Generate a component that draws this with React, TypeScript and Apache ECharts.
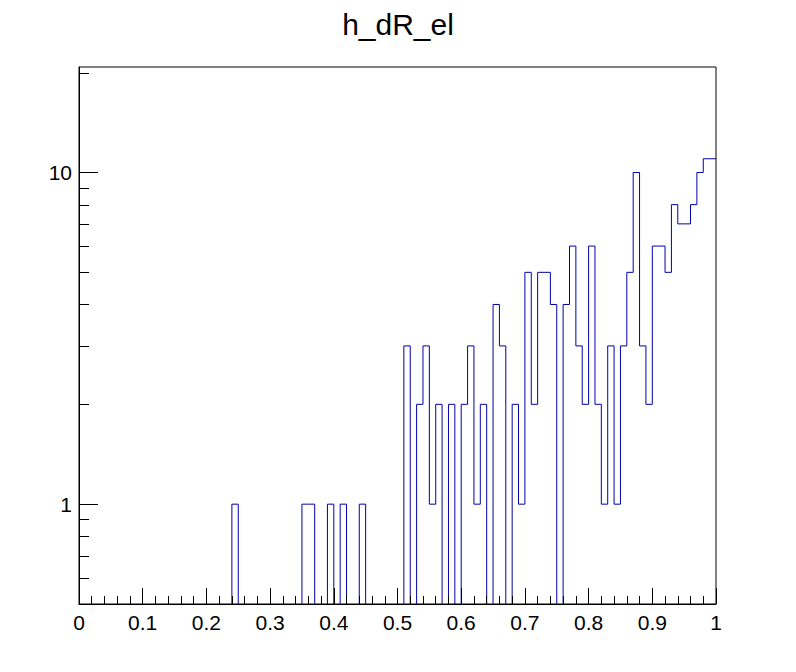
import React, { useEffect, useRef } from 'react';
import * as echarts from 'echarts';

const chartTitle = 'h_dR_el';
const xRange = [0, 1];
const binCount = 100;
// entries per bin, bins of width 0.01 from 0 to 1
const counts = [
  0, 0, 0, 0, 0, 0, 0, 0, 0, 0,
  0, 0, 0, 0, 0, 0, 0, 0, 0, 0,
  0, 0, 0, 0, 1, 0, 0, 0, 0, 0,
  0, 0, 0, 0, 0, 1, 1, 0, 0, 1,
  0, 1, 0, 0, 1, 0, 0, 0, 0, 0,
  0, 3, 0, 2, 3, 1, 2, 0, 2, 0,
  2, 3, 1, 2, 0, 4, 3, 0, 2, 1,
  5, 2, 5, 5, 4, 0, 4, 6, 3, 2,
  6, 2, 1, 3, 1, 3, 5, 10, 3, 2,
  6, 6, 5, 8, 7, 7, 8, 10, 11, 11,
];
const yRange = [0.5, 20.8];
const yMajorTicks = [1, 10];
const yMinorTicks = [0.6, 0.7, 0.8, 0.9, 2, 3, 4, 5, 6, 7, 8, 9, 20];

const FONT = '"Liberation Sans", Arial, Helvetica, sans-serif';
const LINE_COLOR = '#0000aa';

export default function App() {
  const ref = useRef<HTMLDivElement>(null);

  useEffect(() => {
    if (!ref.current) return;
    const chart = echarts.init(ref.current, undefined, { renderer: 'svg' });

    const binWidth = (xRange[1] - xRange[0]) / binCount;
    const floor = 0.3; // empty bins drawn below the frame (clipped)
    const pts: [number, number][] = [[xRange[0], floor]];
    counts.forEach((c, i) => {
      const lo = +(xRange[0] + i * binWidth).toFixed(4);
      const hi = +(xRange[0] + (i + 1) * binWidth).toFixed(4);
      const v = c > 0 ? c : floor;
      pts.push([lo, v], [hi, v]);
    });

    const yTicks = [...yMajorTicks, ...yMinorTicks].map((v) => [xRange[0], v]);

    chart.setOption({
      animation: false,
      backgroundColor: '#fff',
      title: {
        text: chartTitle,
        left: 'center',
        top: 4,
        textStyle: { fontFamily: FONT, fontSize: 30, fontWeight: 'normal', color: '#000' },
      },
      grid: {
        left: 79,
        right: 80,
        top: 67,
        bottom: 68,
        show: true,
        borderColor: '#000',
        borderWidth: 1,
        backgroundColor: 'transparent',
        containLabel: false,
        outerBoundsMode: 'none',
      },
      xAxis: {
        type: 'value',
        min: xRange[0],
        max: xRange[1],
        interval: 0.1,
        z: 10,
        axisLine: { show: true, lineStyle: { color: '#000', width: 1 } },
        axisTick: { show: true, inside: true, length: 16, lineStyle: { color: '#000', width: 1 } },
        minorTick: { show: true, splitNumber: 5, length: 8, lineStyle: { color: '#000', width: 1 } },
        splitLine: { show: false },
        minorSplitLine: { show: false },
        axisLabel: { color: '#000', fontSize: 21, fontFamily: FONT, margin: 8 },
      },
      yAxis: {
        type: 'log',
        logBase: 10,
        min: yRange[0],
        max: yRange[1],
        z: 10,
        axisLine: { show: true, lineStyle: { color: '#000', width: 1 } },
        axisTick: { show: false },
        minorTick: { show: false },
        splitLine: { show: false },
        minorSplitLine: { show: false },
        axisLabel: {
          color: '#000',
          fontSize: 21,
          fontFamily: FONT,
          margin: 7,
          formatter: (v: number) =>
            yMajorTicks.find((m) => Math.abs(v - m) < 1e-6 * m) !== undefined ? String(Math.round(v)) : '',
        },
      },
      series: [
        {
          type: 'line',
          data: pts,
          symbol: 'none',
          showSymbol: false,
          clip: true,
          z: 2,
          lineStyle: { color: LINE_COLOR, width: 1 },
          emphasis: { disabled: true },
          silent: true,
        },
        {
          type: 'custom',
          data: yTicks,
          z: 11,
          silent: true,
          renderItem: (_params: any, api: any) => {
            const v = api.value(1);
            const p = api.coord([xRange[0], v]);
            const len = yMajorTicks.includes(v) ? 19 : 10;
            const y = Math.round(p[1]) + 0.5;
            return {
              type: 'line',
              shape: { x1: p[0], y1: y, x2: p[0] + len, y2: y },
              style: { stroke: '#000', lineWidth: 1 },
            };
          },
        },
      ],
    });

    return () => chart.dispose();
  }, []);

  return (
    <div
      ref={ref}
      style={{ position: 'fixed', left: 0, top: 0, width: 796, height: 672, background: '#fff' }}
    />
  );
}
